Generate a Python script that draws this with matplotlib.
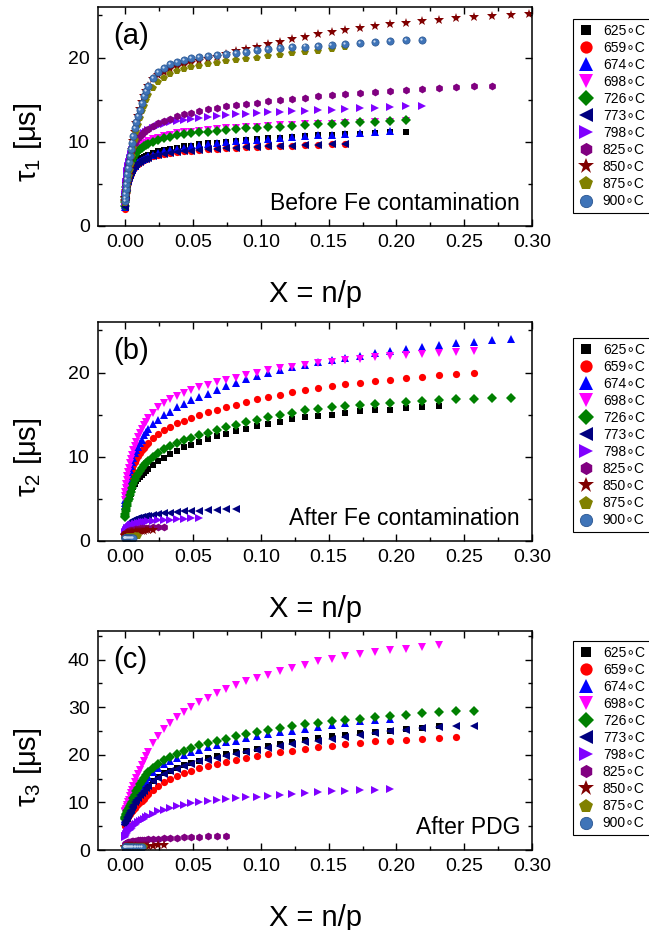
import matplotlib
matplotlib.use("Agg")
import matplotlib.pyplot as plt
from matplotlib.lines import Line2D
from matplotlib.ticker import MultipleLocator
from matplotlib.transforms import offset_copy

plt.rcParams["font.family"] = ["Liberation Sans", "DejaVu Sans"]
plt.rcParams["mathtext.fontset"] = "custom"
plt.rcParams["mathtext.rm"] = "Liberation Sans"
plt.rcParams["mathtext.it"] = "Liberation Sans:italic"

# X = n/p positions of the data points (shared by all series, each series uses the first len(y))
X_GRID = [0.0, 0.00004, 0.00017, 0.00038, 0.00068, 0.00106, 0.0015, 0.00207, 0.0027, 0.0034,
          0.0042, 0.0051, 0.0061, 0.0072, 0.0083, 0.0095, 0.0108, 0.0122, 0.0137, 0.0152,
          0.0169, 0.0204, 0.0243, 0.0286, 0.0331, 0.038, 0.0433, 0.0488, 0.0548, 0.061,
          0.0676, 0.0745, 0.0818, 0.0894, 0.0973, 0.1056, 0.1142, 0.1232, 0.1325, 0.1421,
          0.1521, 0.1624, 0.1731, 0.184, 0.1954, 0.207, 0.219, 0.2314, 0.244, 0.257,
          0.2704, 0.2841, 0.298]

TEMPS = ["625", "659", "674", "698", "726", "773", "798", "825", "850", "875", "900"]
MARKERS = ["s", "o", "^", "v", "D", "<", ">", "h", "*", "p", "o"]
COLORS = ["#000000", "#ff0000", "#0000ff", "#ff00ff", "#008000", "#000080",
          "#8000ff", "#800080", "#800000", "#808000", "#3f74b8"]
SIZES = [4.6, 5.2, 5.6, 5.6, 4.6, 5.6, 5.6, 5.6, 7.0, 6.0, 5.2]

# (a) tau_1, before Fe contamination
A_625 = [2.4, 2.7, 3.2, 3.7, 4.2, 4.7, 5.1, 5.5, 5.9, 6.25, 6.55, 6.85, 7.1, 7.35, 7.55, 7.75,
         7.9, 8.05, 8.2, 8.3, 8.45, 8.65, 8.85, 9.0, 9.15, 9.3, 9.45, 9.55, 9.7, 9.8, 9.9, 10.0,
         10.1, 10.2, 10.3, 10.4, 10.5, 10.55, 10.65, 10.75, 10.8, 10.9, 10.95, 11.05, 11.1, 11.2]
A_659 = [2.0, 2.3, 2.8, 3.3, 3.8, 4.3, 4.8, 5.2, 5.6, 5.9, 6.2, 6.5, 6.8, 7.0, 7.2, 7.4, 7.55,
         7.7, 7.85, 7.95, 8.05, 8.25, 8.4, 8.55, 8.65, 8.75, 8.85, 8.95, 9.0, 9.1, 9.15, 9.2,
         9.3, 9.35, 9.4, 9.45, 9.5, 9.55, 9.6, 9.65, 9.7, 9.75]
A_674 = [2.2, 2.5, 3.0, 3.5, 4.0, 4.5, 4.9, 5.3, 5.7, 6.05, 6.35, 6.65, 6.9, 7.15, 7.35, 7.55,
         7.7, 7.85, 8.0, 8.1, 8.25, 8.45, 8.65, 8.85, 9.0, 9.15, 9.3, 9.45, 9.6, 9.7, 9.8, 9.95,
         10.05, 10.15, 10.25, 10.35, 10.45, 10.55, 10.65, 10.75, 10.85, 10.95, 11.05, 11.15, 11.25]
A_698 = [2.6, 3.0, 3.6, 4.2, 4.8, 5.4, 5.9, 6.4, 6.9, 7.3, 7.7, 8.05, 8.4, 8.7, 8.95, 9.2, 9.4,
         9.6, 9.75, 9.9, 10.05, 10.3, 10.5, 10.7, 10.85, 11.0, 11.1, 11.2, 11.3, 11.4, 11.5, 11.6,
         11.65, 11.75, 11.8, 11.9, 11.95, 12.0, 12.05, 12.1, 12.15, 12.2, 12.25, 12.3, 12.4, 12.45]
A_726 = [2.4, 2.8, 3.4, 4.0, 4.6, 5.1, 5.6, 6.1, 6.6, 7.0, 7.4, 7.75, 8.1, 8.4, 8.65, 8.9, 9.1,
         9.3, 9.45, 9.6, 9.75, 10.0, 10.25, 10.45, 10.6, 10.75, 10.9, 11.0, 11.1, 11.2, 11.3, 11.4,
         11.5, 11.6, 11.65, 11.75, 11.8, 11.9, 11.95, 12.05, 12.1, 12.2, 12.3, 12.4, 12.5, 12.6]
A_773 = [2.3, 2.6, 3.1, 3.6, 4.1, 4.6, 5.0, 5.4, 5.8, 6.1, 6.4, 6.7, 6.95, 7.15, 7.35, 7.5, 7.65,
         7.8, 7.9, 8.0, 8.1, 8.3, 8.45, 8.6, 8.7, 8.8, 8.9, 8.95, 9.05, 9.1, 9.15, 9.2, 9.3, 9.35,
         9.4, 9.45, 9.5, 9.55, 9.6, 9.65, 9.7, 9.75]
A_798 = [2.8, 3.2, 3.8, 4.5, 5.2, 5.9, 6.5, 7.1, 7.6, 8.1, 8.55, 9.0, 9.4, 9.75, 10.05, 10.3,
         10.55, 10.8, 11.0, 11.2, 11.35, 11.65, 11.9, 12.1, 12.3, 12.45, 12.6, 12.75, 12.85, 12.95,
         13.05, 13.15, 13.25, 13.35, 13.4, 13.5, 13.55, 13.6, 13.7, 13.75, 13.8, 13.9, 13.95, 14.0,
         14.1, 14.2, 14.3]
A_825 = [2.9, 3.3, 3.9, 4.6, 5.3, 6.0, 6.6, 7.2, 7.7, 8.2, 8.65, 9.1, 9.5, 9.85, 10.15, 10.45,
         10.7, 10.95, 11.15, 11.35, 11.55, 11.9, 12.2, 12.5, 12.75, 13.0, 13.25, 13.45, 13.65,
         13.85, 14.05, 14.2, 14.35, 14.5, 14.65, 14.8, 14.95, 15.1, 15.25, 15.4, 15.55, 15.7,
         15.8, 15.95, 16.05, 16.15, 16.3, 16.4, 16.5, 16.6, 16.6]
A_850 = [2.8, 3.0, 3.3, 3.7, 4.1, 4.6, 5.0, 5.5, 6.0, 6.9, 7.9, 9.0, 10.1, 11.2, 12.2, 13.1,
         13.9, 14.7, 15.4, 16.0, 16.6, 17.4, 17.9, 18.3, 18.6, 18.9, 19.15, 19.4, 19.6, 19.85,
         20.1, 20.45, 20.75, 21.0, 21.25, 21.55, 21.85, 22.15, 22.45, 22.75, 23.05, 23.3, 23.55,
         23.75, 23.95, 24.15, 24.35, 24.5, 24.65, 24.8, 24.9, 25.0, 25.15]
A_875 = [2.7, 2.9, 3.2, 3.6, 4.0, 4.4, 4.8, 5.3, 5.9, 6.6, 7.4, 8.3, 9.2, 10.2, 11.1, 12.0, 12.8,
         13.6, 14.3, 14.9, 15.5, 16.4, 17.1, 17.6, 18.0, 18.35, 18.6, 18.85, 19.05, 19.2, 19.35,
         19.55, 19.7, 19.85, 20.0, 20.2, 20.35, 20.5, 20.65, 20.8, 21.0, 21.2]
A_900 = [3.0, 3.3, 3.8, 4.4, 5.0, 5.6, 6.2, 6.9, 7.6, 8.3, 9.1, 9.9, 10.7, 11.6, 12.3, 13.0, 13.8,
         14.6, 15.4, 16.0, 16.6, 17.6, 18.3, 18.8, 19.2, 19.5, 19.75, 19.9, 20.05, 20.15, 20.3,
         20.45, 20.55, 20.7, 20.85, 21.0, 21.1, 21.2, 21.3, 21.4, 21.5, 21.65, 21.75, 21.85,
         21.95, 22.05, 22.1]

# (b) tau_2, after Fe contamination
B_625 = [3.3, 3.4, 3.6, 3.8, 4.1, 4.4, 4.6, 4.8, 5.0, 5.3, 5.6, 6.0, 6.4, 6.8, 7.1, 7.35, 7.6,
         7.85, 8.1, 8.35, 8.55, 9.05, 9.5, 9.9, 10.3, 10.7, 11.1, 11.45, 11.8, 12.1, 12.45, 12.75,
         13.0, 13.3, 13.6, 13.9, 14.15, 14.45, 14.7, 14.85, 15.0, 15.2, 15.4, 15.5, 15.6, 15.75,
         15.85, 16.0]
B_659 = [3.5, 3.8, 4.2, 4.7, 5.2, 5.7, 6.2, 6.7, 7.2, 7.7, 8.2, 8.6, 9.0, 9.4, 9.75, 10.1, 10.4,
         10.75, 11.05, 11.35, 11.65, 12.2, 12.7, 13.15, 13.55, 13.95, 14.3, 14.65, 14.95, 15.3,
         15.6, 15.9, 16.2, 16.5, 16.8, 17.1, 17.35, 17.65, 17.9, 18.15, 18.4, 18.6, 18.8, 19.0,
         19.15, 19.35, 19.5, 19.65, 19.8, 20.0]
B_674 = [4.2, 4.5, 4.9, 5.4, 5.9, 6.4, 6.9, 7.4, 7.9, 8.4, 8.9, 9.4, 9.9, 10.4, 10.8, 11.2, 11.6,
         12.0, 12.6, 12.95, 13.3, 13.85, 14.4, 14.9, 15.35, 15.85, 16.3, 16.7, 17.1, 17.5, 17.95,
         18.4, 18.8, 19.2, 19.55, 19.9, 20.25, 20.6, 20.9, 21.2, 21.45, 21.75, 22.0, 22.3, 22.6,
         22.8, 23.05, 23.25, 23.45, 23.6, 23.8, 24.0]
B_698 = [4.9, 5.3, 5.8, 6.3, 6.8, 7.2, 7.7, 8.2, 8.7, 9.2, 9.7, 10.2, 10.8, 11.3, 11.8, 12.3,
         12.8, 13.3, 13.75, 14.15, 14.55, 15.25, 15.85, 16.35, 16.8, 17.25, 17.6, 17.95, 18.25,
         18.55, 18.85, 19.1, 19.4, 19.7, 20.0, 20.25, 20.5, 20.7, 20.9, 21.1, 21.3, 21.45, 21.6,
         21.8, 21.95, 22.1, 22.25, 22.35, 22.45, 22.5]
B_726 = [2.9, 3.0, 3.2, 3.5, 3.8, 4.1, 4.4, 4.7, 5.0, 5.4, 5.8, 6.3, 6.8, 7.2, 7.6, 8.0, 8.35,
         8.7, 9.0, 9.3, 9.55, 10.0, 10.45, 10.9, 11.3, 11.65, 11.95, 12.25, 12.55, 12.85, 13.2,
         13.5, 13.8, 14.1, 14.4, 14.7, 15.0, 15.25, 15.5, 15.7, 15.85, 16.0, 16.15, 16.3, 16.4,
         16.5, 16.6, 16.7, 16.8, 16.9, 17.0, 17.0]
B_773 = [1.0, 1.1, 1.2, 1.35, 1.5, 1.65, 1.8, 1.95, 2.05, 2.15, 2.25, 2.35, 2.45, 2.55, 2.6, 2.7,
         2.75, 2.8, 2.9, 2.95, 3.0, 3.1, 3.2, 3.3, 3.35, 3.45, 3.5, 3.55, 3.6, 3.65, 3.7, 3.75, 3.8]
B_798 = [0.9, 1.0, 1.1, 1.2, 1.3, 1.4, 1.5, 1.6, 1.7, 1.8, 1.85, 1.9, 1.95, 2.0, 2.05, 2.1, 2.15,
         2.2, 2.25, 2.3, 2.35, 2.4, 2.45, 2.5, 2.55, 2.6, 2.65, 2.7, 2.75]
B_825 = [0.8, 0.85, 0.9, 0.95, 1.0, 1.05, 1.1, 1.15, 1.2, 1.25, 1.3, 1.33, 1.36, 1.4, 1.43, 1.46,
         1.5, 1.53, 1.56, 1.58, 1.6, 1.63, 1.66, 1.7]
B_850 = [0.6, 0.65, 0.7, 0.75, 0.8, 0.85, 0.9, 0.93, 0.96, 1.0, 1.03, 1.06, 1.09, 1.12, 1.15,
         1.17, 1.19, 1.21, 1.23, 1.25, 1.27, 1.3]
B_875 = [0.3, 0.32, 0.34, 0.36, 0.38, 0.4, 0.42, 0.44, 0.46, 0.48, 0.5, 0.52, 0.53, 0.54, 0.55, 0.56]
B_900 = [0.3, 0.3, 0.31, 0.32, 0.32, 0.33, 0.33, 0.34, 0.34, 0.35, 0.35, 0.36, 0.36]

# (c) tau_3, after PDG
C_625 = [5.5, 5.7, 6.0, 6.3, 6.6, 6.9, 7.2, 7.5, 7.9, 8.3, 8.7, 9.2, 9.7, 10.2, 10.7, 11.2, 11.7,
         12.2, 12.7, 13.2, 13.7, 14.6, 15.4, 16.1, 16.7, 17.3, 17.8, 18.3, 18.8, 19.3, 19.7, 20.1,
         20.5, 20.9, 21.3, 21.9, 22.3, 22.7, 23.1, 23.5, 23.85, 24.2, 24.5, 24.8, 25.05, 25.35,
         25.7, 26.1]
C_659 = [5.0, 5.2, 5.5, 5.8, 6.1, 6.4, 6.7, 7.0, 7.3, 7.6, 7.9, 8.2, 8.5, 8.9, 9.2, 9.6, 10.0,
         10.4, 10.8, 11.3, 11.8, 12.7, 13.5, 14.2, 14.9, 15.6, 16.2, 16.7, 17.2, 17.7, 18.1, 18.5,
         18.9, 19.3, 19.7, 20.1, 20.5, 20.9, 21.3, 21.6, 21.9, 22.2, 22.5, 22.8, 23.0, 23.2, 23.4,
         23.6, 23.75]
C_674 = [6.0, 6.2, 6.5, 6.8, 7.1, 7.4, 7.7, 8.0, 8.4, 8.8, 9.2, 9.7, 10.3, 10.9, 11.5, 12.2, 12.9,
         13.5, 14.1, 14.7, 15.3, 16.3, 17.2, 18.0, 18.7, 19.4, 20.0, 20.6, 21.1, 21.6, 22.1, 22.6,
         23.0, 23.5, 23.9, 24.3, 24.7, 25.1, 25.5, 25.9, 26.3, 26.7, 27.0, 27.3, 27.5]
C_698 = [7.9, 8.0, 8.2, 8.4, 8.7, 9.0, 9.5, 10.0, 10.6, 11.3, 12.0, 12.7, 13.5, 14.3, 15.1, 15.9,
         16.9, 17.9, 18.8, 19.7, 20.6, 22.4, 23.9, 25.4, 26.6, 27.9, 29.0, 30.0, 31.0, 32.0, 32.9,
         33.8, 34.6, 35.4, 36.1, 36.8, 37.5, 38.2, 38.9, 39.6, 40.2, 40.7, 41.2, 41.6, 42.0, 42.3,
         42.7, 43.1]
C_726 = [6.5, 6.7, 7.0, 7.3, 7.6, 7.8, 8.1, 8.4, 8.8, 9.2, 9.6, 10.1, 10.9, 11.6, 12.3, 13.1,
         13.8, 14.5, 15.2, 15.8, 16.4, 17.3, 18.1, 19.0, 19.6, 20.2, 20.8, 21.4, 22.0, 22.5, 22.9,
         23.4, 23.9, 24.4, 24.8, 25.2, 25.6, 26.0, 26.4, 26.7, 27.0, 27.3, 27.6, 27.9, 28.2, 28.4,
         28.7, 28.9, 29.1, 29.2]
C_773 = [5.3, 5.5, 5.8, 6.1, 6.4, 6.7, 7.0, 7.3, 7.7, 8.1, 8.5, 9.0, 9.5, 10.0, 10.5, 11.0, 11.5,
         12.0, 12.5, 13.0, 13.5, 14.4, 15.2, 15.9, 16.5, 17.1, 17.6, 18.1, 18.6, 19.0, 19.4, 19.8,
         20.2, 20.6, 21.0, 21.4, 21.8, 22.2, 22.6, 23.0, 23.4, 23.8, 24.2, 24.6, 25.0, 25.3, 25.6,
         25.8, 26.0, 26.1]
C_798 = [2.8, 2.9, 3.0, 3.2, 3.3, 3.5, 3.7, 3.9, 4.1, 4.3, 4.5, 4.7, 5.0, 5.3, 5.5, 5.8, 6.0,
         6.3, 6.6, 6.9, 7.1, 7.6, 8.1, 8.5, 8.9, 9.2, 9.5, 9.8, 10.0, 10.25, 10.45, 10.65, 10.85,
         11.05, 11.2, 11.4, 11.55, 11.75, 12.05, 12.25, 12.35, 12.5, 12.6, 12.7, 12.85]
C_825 = [1.0, 1.1, 1.2, 1.3, 1.4, 1.5, 1.55, 1.6, 1.65, 1.7, 1.75, 1.8, 1.85, 1.9, 1.95, 2.0, 2.05,
         2.1, 2.15, 2.2, 2.25, 2.3, 2.4, 2.45, 2.55, 2.6, 2.65, 2.7, 2.8, 2.85, 2.9, 3.0]
C_850 = [0.5, 0.55, 0.6, 0.63, 0.66, 0.69, 0.72, 0.74, 0.76, 0.78, 0.8, 0.82, 0.84, 0.85, 0.86,
         0.88, 0.89, 0.9, 0.91, 0.92, 0.93, 0.94, 0.95, 0.96]
C_875 = [0.5, 0.52, 0.54, 0.56, 0.58, 0.6, 0.61, 0.62, 0.63, 0.64, 0.65, 0.66, 0.67, 0.68, 0.69,
         0.7, 0.7, 0.71, 0.72]
C_900 = [0.55, 0.56, 0.57, 0.58, 0.58, 0.59, 0.59, 0.6, 0.6, 0.6, 0.61, 0.61, 0.61, 0.62, 0.62,
         0.62, 0.62, 0.63]

PANEL_A = [A_625, A_659, A_674, A_698, A_726, A_773, A_798, A_825, A_850, A_875, A_900]
PANEL_B = [B_625, B_659, B_674, B_698, B_726, B_773, B_798, B_825, B_850, B_875, B_900]
PANEL_C = [C_625, C_659, C_674, C_698, C_726, C_773, C_798, C_825, C_850, C_875, C_900]

SPHERE_EDGE = "#2a5590"
SPHERE_SHINE = "#c9d9ef"


def draw_panel(fig, rect, series, tag, ylabel, note, ymax, legend_top):
    ax = fig.add_axes(rect)
    for k, ys in enumerate(series):
        xs = X_GRID[:len(ys)]
        if k == 10:
            ax.plot(xs, ys, ls="none", marker="o", ms=SIZES[k], mfc=COLORS[k],
                    mec=SPHERE_EDGE, mew=0.5)
            # small highlight to mimic the shaded sphere symbol
            shine = offset_copy(ax.transData, fig=fig, x=-0.8, y=0.8, units="points")
            ax.plot(xs, ys, ls="none", marker="o", ms=1.6, mfc=SPHERE_SHINE, mew=0,
                    transform=shine)
        else:
            ax.plot(xs, ys, ls="none", marker=MARKERS[k], ms=SIZES[k],
                    mfc=COLORS[k], mec=COLORS[k], mew=0.0)

    ax.set_xlim(-0.02, 0.30)
    ax.set_ylim(0, ymax)
    ax.xaxis.set_major_locator(MultipleLocator(0.05))
    ax.xaxis.set_minor_locator(MultipleLocator(0.025))
    ax.yaxis.set_major_locator(MultipleLocator(10))
    ax.yaxis.set_minor_locator(MultipleLocator(5))
    ax.xaxis.set_major_formatter(plt.FuncFormatter(lambda v, p: f"{v:.2f}"))
    ax.tick_params(which="both", direction="in", top=True, right=True, width=1.0)
    ax.tick_params(which="major", length=5, labelsize=14, pad=6)
    ax.tick_params(which="minor", length=3)
    for sp in ax.spines.values():
        sp.set_linewidth(1.1)

    ax.set_xlabel("X = n/p", fontsize=21)
    ax.xaxis.set_label_coords(0.5, -0.245)
    ax.set_ylabel(ylabel, fontsize=21)
    ax.yaxis.set_label_coords(-0.125, 0.38)
    ax.text(0.035, 0.93, tag, transform=ax.transAxes, fontsize=21, ha="left", va="top")
    ax.text(0.972, 0.073, note, transform=ax.transAxes, fontsize=16.5,
            ha="right", va="baseline")

    handles = []
    for k in range(len(TEMPS)):
        if k == 10:
            h = Line2D([], [], ls="none", marker="o", ms=SIZES[k] * 1.7,
                       mfc=COLORS[k], mec=SPHERE_EDGE, mew=0.6)
        else:
            h = Line2D([], [], ls="none", marker=MARKERS[k], ms=SIZES[k] * 1.7,
                       mfc=COLORS[k], mec=COLORS[k], mew=0.0)
        handles.append(h)
    labels = [f"{t}\u2218C" for t in TEMPS]
    leg = fig.legend(handles, labels, loc="upper left", bbox_to_anchor=(573 / 649, legend_top),
                     bbox_transform=fig.transFigure, fontsize=10, frameon=True,
                     fancybox=False, edgecolor="black", framealpha=1, handlelength=1.2,
                     handletextpad=0.6, labelspacing=0.22, borderpad=0.35, borderaxespad=0)
    leg.get_frame().set_linewidth(0.8)
    return ax


fig = plt.figure(figsize=(6.49, 9.30), dpi=100)
draw_panel(fig, [0.151, 0.757, 0.669, 0.2355], PANEL_A, "(a)", "\u03c4$_{1}$ [\u03bcs]",
           "Before Fe contamination", 26, 1 - 19 / 930)
draw_panel(fig, [0.151, 0.4183, 0.669, 0.2355], PANEL_B, "(b)", "\u03c4$_{2}$ [\u03bcs]",
           "After Fe contamination", 26, 1 - 338 / 930)
draw_panel(fig, [0.151, 0.086, 0.669, 0.2355], PANEL_C, "(c)", "\u03c4$_{3}$ [\u03bcs]",
           "After PDG", 46, 1 - 641 / 930)

fig.savefig("out.png", dpi=100)
